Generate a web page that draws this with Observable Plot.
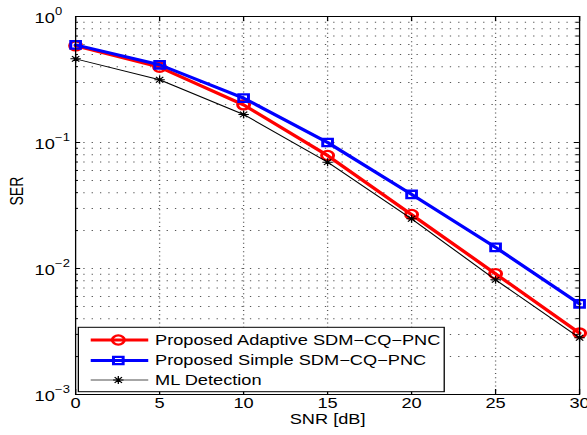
<!DOCTYPE html>
<html><head><meta charset="utf-8">
<script src="https://cdn.jsdelivr.net/npm/d3@7"></script>
<script src="https://cdn.jsdelivr.net/npm/@observablehq/plot@0.6"></script>
<style>body{margin:0;background:#fff;} #chart svg{display:block;}</style>
</head><body><div id="chart"></div>
<script>
// ---- data ----
const snr = [0, 5, 10, 15, 20, 25, 30];
const serAdaptive = [0.585, 0.396, 0.199, 0.0788, 0.0268, 0.00908, 0.00307];
const serSimple   = [0.596, 0.414, 0.225, 0.100, 0.0387, 0.0147, 0.00525];
const serML       = [0.461, 0.315, 0.167, 0.0698, 0.0248, 0.00813, 0.00282];
const seriesNames = ["Proposed Adaptive SDM\u2212CQ\u2212PNC", "Proposed Simple SDM\u2212CQ\u2212PNC", "ML Detection"];
const xTicks = [0, 5, 10, 15, 20, 25, 30];
const yMajor = [1e-3, 1e-2, 1e-1, 1];
const yExponents = ["\u22123", "\u22122", "\u22121", "0"];
const yMinor = [2e-3,3e-3,4e-3,5e-3,6e-3,7e-3,8e-3,9e-3,
                2e-2,3e-2,4e-2,5e-2,6e-2,7e-2,8e-2,9e-2,
                2e-1,3e-1,4e-1,5e-1,6e-1,7e-1,8e-1,9e-1];

// ---- layout (internal coords, stretched horizontally afterwards) ----
const OUTW = 587, OUTH = 435;
const W = 451, H = 435;
const mL = 57.6, mR = 6.2, mT = 16, mB = 41;
const innerW = W - mL - mR, innerH = H - mT - mB;
const FONT = "'Liberation Sans', Arial, Helvetica, sans-serif";

const table = (ys) => snr.map((x, i) => ({x, y: ys[i]}));
const dAdaptive = table(serAdaptive);
const dSimple = table(serSimple);
const dML = table(serML);

const asterisk = {
  draw(ctx, size) {
    const r = Math.sqrt(size / Math.PI);
    const d = r * Math.SQRT1_2;
    ctx.moveTo(-r, 0); ctx.lineTo(r, 0);
    ctx.moveTo(0, -r); ctx.lineTo(0, r);
    ctx.moveTo(-d, -d); ctx.lineTo(d, d);
    ctx.moveTo(-d, d); ctx.lineTo(d, -d);
  }
};

const gridY = yMajor.slice(1, -1).concat(yMinor);

const plot = Plot.plot({
  width: W, height: H,
  marginLeft: mL, marginRight: mR, marginTop: mT, marginBottom: mB,
  style: {fontFamily: FONT, fontSize: "14px", background: "white", color: "black"},
  x: {domain: [0, 30], axis: null},
  y: {type: "log", domain: [1e-3, 1], axis: null},
  marks: [
    Plot.ruleX(xTicks.slice(1, -1), {x: d => d, stroke: "#555", strokeWidth: 1, strokeDasharray: "1,3.2"}),
    Plot.ruleY(gridY, {y: d => d, stroke: "#555", strokeWidth: 1, strokeDasharray: "1,5.4"}),
    // inward tick marks (matlab style)
    Plot.ruleY(yMajor, {y: d => d, insetRight: innerW - 4, stroke: "black"}),
    Plot.ruleY(yMajor, {y: d => d, insetLeft: innerW - 4, stroke: "black"}),
    Plot.ruleY(yMinor, {y: d => d, insetRight: innerW - 2.3, stroke: "black"}),
    Plot.ruleY(yMinor, {y: d => d, insetLeft: innerW - 2.3, stroke: "black"}),
    Plot.ruleX(xTicks, {x: d => d, insetBottom: innerH - 5, stroke: "black"}),
    Plot.ruleX(xTicks, {x: d => d, insetTop: innerH - 5, stroke: "black"}),
    // series
    Plot.line(dAdaptive, {x: "x", y: "y", stroke: "#ff0000", strokeWidth: 3}),
    Plot.dot(dAdaptive, {x: "x", y: "y", symbol: "circle", r: 4.6, stroke: "#ff0000", strokeWidth: 2.3, fill: "none"}),
    Plot.line(dSimple, {x: "x", y: "y", stroke: "#0000ff", strokeWidth: 3}),
    Plot.dot(dSimple, {x: "x", y: "y", symbol: "square", r: 4.2, stroke: "#0000ff", strokeWidth: 2.3, fill: "none"}),
    Plot.line(dML, {x: "x", y: "y", stroke: "black", strokeWidth: 1}),
    Plot.dot(dML, {x: "x", y: "y", symbol: asterisk, r: 4, stroke: "black", strokeWidth: 1, fill: "none"}),
    Plot.frame({stroke: "black", strokeWidth: 1}),
    // tick labels
    Plot.text(xTicks, {x: d => d, frameAnchor: "bottom", dy: 13.5, text: d => String(d), fill: "black", fontSize: 14}),
    Plot.text(yMajor, {y: d => d, frameAnchor: "left", textAnchor: "start", dx: -31.5, dy: 2.2, text: () => "10", fill: "black", fontSize: 14}),
    Plot.text(yMajor, {y: d => d, frameAnchor: "left", textAnchor: "start", dx: -15.8, dy: -5, text: (d, i) => yExponents[i], fill: "black", fontSize: 10}),
    // axis labels
    Plot.text(["SNR [dB]"], {frameAnchor: "bottom", dy: 29.5, text: d => d, fill: "black", fontSize: 14}),
    Plot.text(["SER"], {frameAnchor: "left", dx: -45.1, rotate: -90, text: d => d, fill: "black", fontSize: 14})
  ]
});

// ---- legend inside the axes ----
const svg = d3.select(plot);
const lg = svg.append("g").attr("font-family", FONT).attr("font-size", 14).attr("text-anchor", "start");
lg.append("rect").attr("x", 60.2).attr("y", 327.3).attr("width", 341.3 - 60.2).attr("height", 391.7 - 327.3)
  .attr("fill", "white").attr("stroke", "black").attr("stroke-width", 1);
const legendRows = [
  {name: seriesNames[0], color: "#ff0000", w: 3, sym: d3.symbolCircle, r: 4.6, sw: 2.3},
  {name: seriesNames[1], color: "#0000ff", w: 3, sym: d3.symbolSquare, r: 4.2, sw: 2.3},
  {name: seriesNames[2], color: "black", w: 1, sym: asterisk, r: 4, sw: 1, line: "#888"}
];
const rowY = [340, 360.5, 380];
legendRows.forEach((r, i) => {
  const y = rowY[i];
  lg.append("line").attr("x1", 69.7).attr("x2", 113.9).attr("y1", y).attr("y2", y)
    .attr("stroke", r.line || r.color).attr("stroke-width", r.line ? 1.6 : r.w);
  lg.append("path").attr("transform", `translate(90.9,${y})`)
    .attr("d", d3.symbol(r.sym, Math.PI * r.r * r.r)())
    .attr("fill", "none").attr("stroke", r.color).attr("stroke-width", r.sw);
  lg.append("text").attr("x", 119.1).attr("y", y).attr("dy", "0.35em").attr("text-anchor", "start")
    .attr("fill", "black").text(r.name);
});

// ---- horizontal stretch of the whole figure ----
plot.setAttribute("width", OUTW);
plot.setAttribute("height", OUTH);
plot.setAttribute("viewBox", `0 0 ${W} ${H}`);
plot.setAttribute("preserveAspectRatio", "none");
plot.style.maxWidth = "none";
plot.style.width = OUTW + "px";
plot.style.height = OUTH + "px";
plot.style.overflow = "hidden";
document.getElementById("chart").appendChild(plot);
</script>
</body></html>
